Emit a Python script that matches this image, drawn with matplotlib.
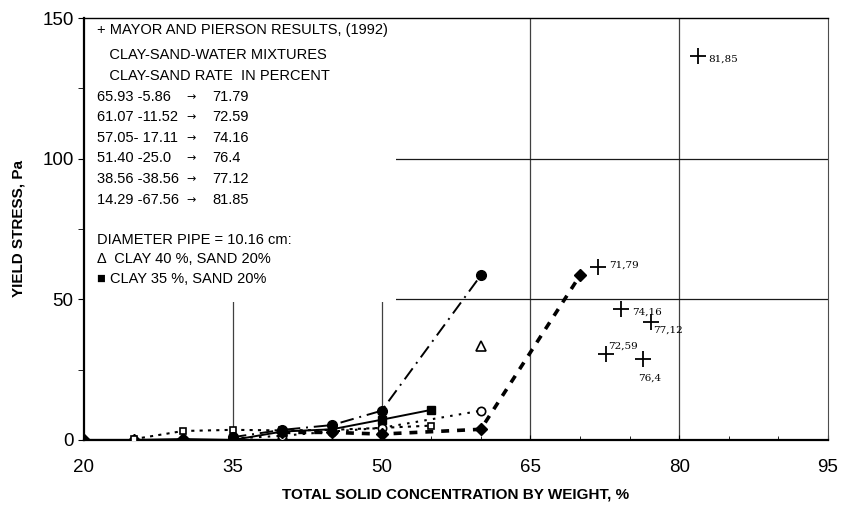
import matplotlib.pyplot as plt
from matplotlib.patches import Rectangle

# dash-dot series, filled circles
x_a = [35, 40, 45, 50, 60]
y_a = [1.0, 3.6, 5.3, 10.4, 58.5]
# solid series, filled squares
x_b = [35, 40, 45, 50, 55]
y_b = [0.0, 3.0, 3.8, 7.2, 10.7]
# thick dashed series, filled diamonds
x_c = [40, 45, 50, 60, 70]
y_c = [2.7, 2.7, 2.1, 3.8, 58.5]
# solid baseline series, filled diamonds
x_d = [20, 25, 30, 35, 40]
y_d = [0.0, 0.0, 0.3, 0.0, 0.0]
# dotted series, open squares
x_e = [25, 30, 35, 40, 45, 50, 55]
y_e = [0.3, 3.2, 3.6, 3.4, 3.6, 4.3, 5.1]
# dotted series, open circles
x_f = [35, 40, 45, 50, 60]
y_f = [0.5, 1.5, 3.0, 4.3, 10.4]
# single triangle point
x_tri = [60]
y_tri = [33.4]

# Mayor and Pierson results (1992)
mp_x = [71.79, 72.59, 74.16, 76.4, 77.12, 81.85]
mp_y = [61.5, 30.5, 46.5, 28.8, 42.0, 136.5]
mp_lab = ['71,79', '72,59', '74,16', '76,4', '77,12', '81,85']
mp_off = [(8, 1), (2, 6), (8, -2), (-4, -14), (2, -6), (8, -2)]

header_lines = [
    '+ MAYOR AND PIERSON RESULTS, (1992)',
    '   CLAY-SAND-WATER MIXTURES',
    '   CLAY-SAND RATE  IN PERCENT',
]
rates = ['65.93 -5.86', '61.07 -11.52', '57.05- 17.11', '51.40 -25.0',
         '38.56 -38.56', '14.29 -67.56']
totals = ['71.79', '72.59', '74.16', '76.4', '77.12', '81.85']
footer_lines = [
    'DIAMETER PIPE = 10.16 cm:',
    '\u0394  CLAY 40 %, SAND 20%',
    '\u25a0 CLAY 35 %, SAND 20%',
]

plt.rcParams['font.family'] = ['Liberation Sans', 'DejaVu Sans']

fig = plt.figure(figsize=(8.45, 5.09), dpi=100)
ax = fig.add_axes([0.0994, 0.1356, 0.8805, 0.829])

# partial grid
for gx in [35, 50, 65, 80]:
    ax.axvline(gx, color='0.25', lw=0.9, zorder=1)
for gy in [50, 100]:
    ax.axhline(gy, color='0.1', lw=0.9, zorder=1)
# white text panel hiding the grid
ax.add_patch(Rectangle((20, 49), 31.5, 101, facecolor='white', edgecolor='none', zorder=1.5))

ax.plot(x_d, y_d, 'k-', lw=1.5, marker='D', ms=6, zorder=3)
ax.plot(x_e, y_e, color='k', ls=(0, (1.5, 2.5)), lw=1.5, marker='s', ms=5, mfc='white', mew=1.2, zorder=3)
ax.plot(x_f, y_f, color='k', ls=(0, (1.2, 3)), lw=1.5, marker='o', ms=6, mfc='white', mew=1.2, zorder=3)
ax.plot(x_b, y_b, 'k-', lw=1.4, marker='s', ms=6, zorder=3)
ax.plot(x_a, y_a, color='k', ls=(0, (7, 3, 1, 3)), lw=1.4, marker='o', ms=7, zorder=3)
ax.plot(x_c, y_c, color='k', ls=(0, (2.2, 2.2)), lw=2.6, marker='D', ms=6, zorder=3)
ax.plot(x_tri, y_tri, 'k^', ms=7, mfc='white', mew=1.2, zorder=3)

ax.plot(mp_x, mp_y, 'k+', ms=11, mew=1.3, ls='none', zorder=3)
for x, y, lab, off in zip(mp_x, mp_y, mp_lab, mp_off):
    ax.annotate(lab, (x, y), xytext=off, textcoords='offset points',
                fontsize=7.5, family='DejaVu Serif', va='center', ha='left')

# text panel, one row at a time (row centres in pixels from the top of the figure)
row_px = [30, 55, 76, 97, 117, 138, 158, 179, 200, 240, 259, 279]
ax_top, ax_h = 18, 422


def row_y(px):
    return 1 - (px - ax_top) / ax_h


kw = dict(transform=ax.transAxes, fontsize=10.5, va='center', ha='left', zorder=4)
for i, line in enumerate(header_lines):
    ax.text(0.017, row_y(row_px[i]), line, **kw)
for i, (r, t) in enumerate(zip(rates, totals)):
    y = row_y(row_px[3 + i])
    ax.text(0.017, y, r, **kw)
    ax.text(0.138, y, '\u2192', transform=ax.transAxes, fontsize=8,
            family='DejaVu Sans', va='center', ha='left', zorder=4)
    ax.text(0.172, y, t, **kw)
for i, line in enumerate(footer_lines):
    ax.text(0.017, row_y(row_px[9 + i]), line, **kw)

ax.set_xlim(20, 95)
ax.set_ylim(0, 150)
ax.set_xticks([20, 35, 50, 65, 80, 95])
ax.set_xticks(range(20, 96, 5), minor=True)
ax.set_yticks([0, 50, 100, 150])
ax.set_yticks([25, 75, 125], minor=True)
ax.tick_params(axis='both', labelsize=13.5)
ax.tick_params(axis='x', which='both', direction='in', pad=14)
ax.tick_params(axis='x', which='minor', length=3)
ax.tick_params(axis='y', which='both', direction='out', length=4)

ax.spines['left'].set_linewidth(1.6)
ax.spines['bottom'].set_linewidth(1.6)
ax.spines['top'].set_linewidth(1.0)
ax.spines['right'].set_linewidth(0.8)
ax.spines['right'].set_color('0.3')

ax.set_xlabel('TOTAL SOLID CONCENTRATION BY WEIGHT, %', fontsize=11, fontweight='bold', labelpad=8)
ax.set_ylabel('YIELD STRESS, Pa', fontsize=11, fontweight='bold', labelpad=12)

fig.savefig('out.png', dpi=100)
